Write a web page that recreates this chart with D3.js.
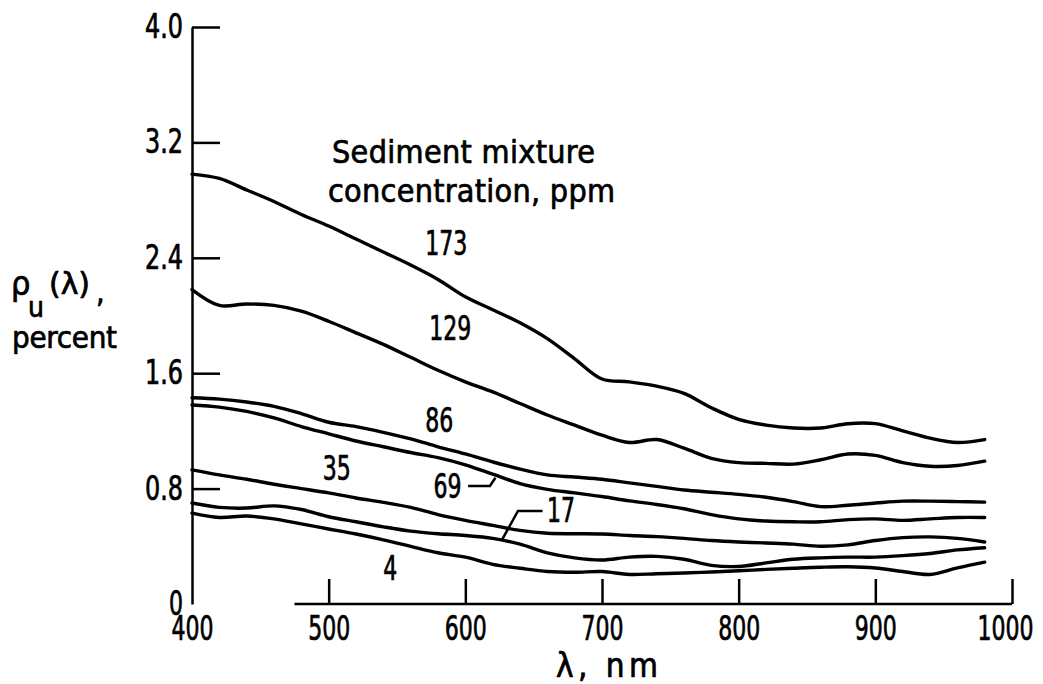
<!DOCTYPE html>
<html>
<head>
<meta charset="utf-8">
<script src="https://cdn.jsdelivr.net/npm/d3@7/dist/d3.min.js"></script>
<style>
  body { margin: 0; background: #fff; }
  svg text {
    font-family: "Liberation Sans Narrow", "DejaVu Sans Condensed", "Liberation Sans", sans-serif;
    fill: #000;
    stroke: #000;
    stroke-width: 0.7px;
  }
  .axis text { font-size: 33px; }
  .axis path, .axis line { stroke: #000; stroke-width: 2.5; }
</style>
</head>
<body>
<svg id="chart"></svg>
<script>
const width = 1043;
const height = 684;

// wavelength grid, nm
const wavelengths = [400, 420, 440, 460, 480, 500, 520, 540, 560, 580,
                     600, 620, 640, 660, 680, 700, 720, 740, 760, 780,
                     800, 820, 840, 860, 880, 900, 920, 940, 960, 980];

// upwelled reflectance, percent, for each sediment concentration (ppm)
const rho173 = [2.98, 2.95, 2.87, 2.79, 2.70, 2.62, 2.53, 2.44, 2.35, 2.25,
                2.13, 2.04, 1.95, 1.84, 1.70, 1.56, 1.54, 1.51, 1.46, 1.36,
                1.28, 1.24, 1.22, 1.22, 1.25, 1.25, 1.20, 1.15, 1.12, 1.14];
const rho129 = [2.18, 2.07, 2.08, 2.07, 2.03, 1.96, 1.88, 1.80, 1.71, 1.62,
                1.54, 1.47, 1.39, 1.31, 1.24, 1.17, 1.12, 1.14, 1.08, 1.01,
                0.98, 0.975, 0.97, 1.00, 1.04, 1.03, 0.98, 0.955, 0.96, 0.99];
const rho86  = [1.43, 1.42, 1.40, 1.37, 1.32, 1.26, 1.23, 1.19, 1.145, 1.09,
                1.04, 0.985, 0.935, 0.895, 0.88, 0.865, 0.84, 0.815, 0.79, 0.775,
                0.76, 0.74, 0.71, 0.675, 0.685, 0.70, 0.713, 0.713, 0.71, 0.706];
const rho69  = [1.38, 1.365, 1.335, 1.29, 1.23, 1.18, 1.13, 1.09, 1.05, 1.015,
                0.965, 0.90, 0.835, 0.795, 0.77, 0.745, 0.715, 0.69, 0.66, 0.62,
                0.59, 0.575, 0.57, 0.57, 0.585, 0.59, 0.58, 0.59, 0.60, 0.60];
const rho35  = [0.93, 0.895, 0.865, 0.83, 0.80, 0.77, 0.735, 0.705, 0.67, 0.62,
                0.58, 0.545, 0.51, 0.49, 0.487, 0.485, 0.475, 0.467, 0.455, 0.44,
                0.43, 0.423, 0.415, 0.40, 0.41, 0.44, 0.46, 0.465, 0.455, 0.43];
const rho17  = [0.70, 0.67, 0.665, 0.68, 0.655, 0.605, 0.57, 0.535, 0.505, 0.487,
                0.475, 0.455, 0.415, 0.355, 0.32, 0.305, 0.325, 0.33, 0.31, 0.268,
                0.26, 0.285, 0.31, 0.32, 0.325, 0.325, 0.335, 0.35, 0.375, 0.39];
const rho4   = [0.63, 0.60, 0.61, 0.59, 0.555, 0.52, 0.485, 0.445, 0.40, 0.355,
                0.325, 0.275, 0.248, 0.225, 0.22, 0.225, 0.205, 0.21, 0.215, 0.222,
                0.23, 0.24, 0.248, 0.255, 0.258, 0.25, 0.225, 0.205, 0.25, 0.29];

const xTicks = [400, 500, 600, 700, 800, 900, 1000];
const yTicks = [0, 0.8, 1.6, 2.4, 3.2, 4.0];

const series = [
  { ppm: "173", values: rho173 },
  { ppm: "129", values: rho129 },
  { ppm: "86",  values: rho86 },
  { ppm: "69",  values: rho69 },
  { ppm: "35",  values: rho35 },
  { ppm: "17",  values: rho17 },
  { ppm: "4",   values: rho4 }
];

const svg = d3.select("#chart")
    .attr("width", width)
    .attr("height", height);

const x = d3.scaleLinear().domain([400, 1000]).range([192, 1012]);
const y = d3.scaleLinear().domain([0, 4]).range([604, 27]);

// squeeze text into a condensed look: digits ~14px, dot ~10px
function condensedWidth(s) {
  let w = 0;
  for (const c of s) w += (c === "." || c === ",") ? 10 : 14;
  return w;
}
function squeeze(sel) {
  sel.attr("textLength", function() { return condensedWidth(this.textContent); })
     .attr("lengthAdjust", "spacingAndGlyphs");
}

// y axis, ticks point into the plot
const yAxis = svg.append("g")
    .attr("class", "axis")
    .attr("transform", `translate(${x(400)},0)`)
    .call(d3.axisLeft(y)
        .tickValues(yTicks)
        .tickSizeInner(-28)
        .tickSizeOuter(0)
        .tickPadding(9)
        .tickFormat(d => d === 0 ? "0" : d.toFixed(1)));
yAxis.selectAll(".tick").filter(d => d === 0).select("line").remove();
yAxis.selectAll(".tick text").call(squeeze);

// x axis, the baseline only starts a little right of the y axis
const xAxis = svg.append("g")
    .attr("class", "axis")
    .attr("transform", `translate(0,${y(0)})`)
    .call(d3.axisBottom(x)
        .tickValues(xTicks)
        .tickSizeInner(-25)
        .tickSizeOuter(0)
        .tickPadding(13)
        .tickFormat(d3.format("d")));
xAxis.select(".domain").remove();
xAxis.selectAll(".tick").filter(d => d === 400).select("line").remove();
xAxis.selectAll(".tick text").call(squeeze);
// last label sits a bit left of its tick so it stays on the page
xAxis.selectAll(".tick").filter(d => d === 1000).select("text").attr("dx", -7);
xAxis.append("line")
    .attr("x1", x(475))
    .attr("x2", x(1000))
    .attr("y1", 0)
    .attr("y2", 0);

// curves
const line = d3.line()
    .x((d, i) => x(wavelengths[i]))
    .y(d => y(d))
    .curve(d3.curveCatmullRom.alpha(0.5));

svg.selectAll("path.curve")
    .data(series)
    .join("path")
    .attr("class", "curve")
    .attr("d", d => line(d.values))
    .attr("fill", "none")
    .attr("stroke", "#000")
    .attr("stroke-width", 3.4)
    .attr("stroke-linecap", "round")
    .attr("stroke-linejoin", "round");

// concentration labels, placed in data space
const labelPos = {
  "173": [586, 2.42],
  "129": [589, 1.83],
  "86":  [581, 1.19],
  "35":  [506, 0.86],
  "69":  [587, 0.735],
  "17":  [670, 0.568],
  "4":   [545, 0.166]
};

svg.selectAll("text.ppm")
    .data(series)
    .join("text")
    .attr("class", "ppm")
    .attr("x", d => x(labelPos[d.ppm][0]))
    .attr("y", d => y(labelPos[d.ppm][1]))
    .attr("text-anchor", "middle")
    .style("font-size", "33px")
    .text(d => d.ppm)
    .call(squeeze);

// leader lines for 69 and 17
const leaders = [
  [[602, 0.818], [618, 0.818], [622, 0.875]],
  [[656.5, 0.645], [638.5, 0.645], [626.8, 0.444]]
];
svg.selectAll("path.leader")
    .data(leaders)
    .join("path")
    .attr("class", "leader")
    .attr("d", d3.line().x(d => x(d[0])).y(d => y(d[1])))
    .attr("fill", "none")
    .attr("stroke", "#000")
    .attr("stroke-width", 2.5);

// legend title
svg.append("text")
    .attr("x", 332).attr("y", 163)
    .attr("textLength", 263).attr("lengthAdjust", "spacing")
    .style("font-size", "32px")
    .text("Sediment mixture");
svg.append("text")
    .attr("x", 328).attr("y", 202)
    .attr("textLength", 287).attr("lengthAdjust", "spacing")
    .style("font-size", "32px")
    .text("concentration, ppm");

// y axis title
svg.append("text").attr("x", 11).attr("y", 295).style("font-size", "34px").text("ρ");
svg.append("text").attr("x", 28).attr("y", 317).style("font-size", "28px").text("u");
svg.append("text").attr("x", 49).attr("y", 294)
    .attr("textLength", 41).attr("lengthAdjust", "spacingAndGlyphs")
    .style("font-size", "30px").text("(λ)");
svg.append("text").attr("x", 96).attr("y", 302).style("font-size", "30px").text(",");
svg.append("text").attr("x", 12).attr("y", 348)
    .attr("textLength", 105).attr("lengthAdjust", "spacing")
    .style("font-size", "31px").text("percent");

// x axis title
svg.append("text").attr("x", 556).attr("y", 677)
    .attr("textLength", 102).attr("lengthAdjust", "spacing")
    .style("font-size", "33px").text("λ, nm");
</script>
</body>
</html>
